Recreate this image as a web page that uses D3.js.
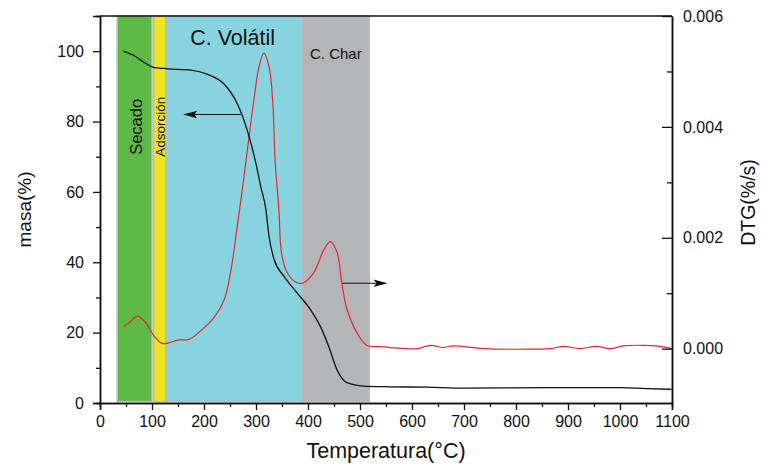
<!DOCTYPE html>
<html>
<head>
<meta charset="utf-8">
<script src="https://cdn.jsdelivr.net/npm/d3@7"></script>
<style>
  html, body { margin: 0; padding: 0; background: #fff; }
  svg text { font-family: "Liberation Sans", Arial, sans-serif; fill: #111; }
</style>
</head>
<body>
<div id="chart-tga"></div>
<script>
// ═══════════════════════════════════════════════
// TGA / DTG — masa(%) y DTG(%/s) vs Temperatura
// ═══════════════════════════════════════════════

// ── Data ───────────────────────────────────────
const MASS_T = [44.7, 66, 85, 101, 130, 175, 207, 239, 258, 274, 290, 301, 309, 319, 325,
  335, 354, 379, 405, 424, 440, 456, 475, 507, 539, 558, 629, 699, 859, 1000, 1051, 1099];
const MASS_V = [100, 98.7, 96.8, 95.5, 95.0, 94.6, 93.4, 90.6, 86.8, 81.6, 74, 67.3, 61.6, 55, 47.4,
  40.7, 36.0, 31.3, 26.5, 21.7, 16.0, 9.4, 5.8, 4.8, 4.65, 4.6, 4.5, 4.2, 4.36, 4.36, 4.1, 3.9];

const DTG_T = [44.7, 56, 72, 88, 104, 120, 133, 149, 171, 193, 219, 239, 251, 264, 277, 296,
  306, 315, 325, 332, 337, 344, 349, 360, 379, 392, 411, 431, 443, 456, 465, 475, 494, 513,
  539, 558, 610, 635, 661, 680, 738, 821, 866, 891, 923, 955, 981, 1006, 1045, 1077, 1099];
const DTG_V = [0.000396, 0.000468, 0.000587, 0.000468, 0.000227, 0.000095, 0.000108, 0.000155,
  0.000168, 0.000317, 0.000558, 0.000888, 0.00137, 0.00221, 0.00311, 0.00449, 0.00509, 0.00533,
  0.00509, 0.00449, 0.00335, 0.00251, 0.00173, 0.00137, 0.00119, 0.00119, 0.00137, 0.00179,
  0.00193, 0.00173, 0.00119, 0.00071, 0.00029, 0.00006, 0.000036, 0.00002, 0.0, 0.00006,
  0.00002, 0.00005, 0.0, -0.00001, 0.0, 0.00004, 0.0, 0.00004, 0.0, 0.00005, 0.00006, 0.00004, 0.0];

// stages (temperature ranges)
const STAGES      = ["Secado", "Adsorción", "C. Volátil", "C. Char"];
const STAGE_FROM  = [33, 103, 127, 389];
const STAGE_TO    = [100, 127, 389, 518];

const X_TICKS     = [0, 100, 200, 300, 400, 500, 600, 700, 800, 900, 1000, 1100];
const Y_TICKS     = [0, 20, 40, 60, 80, 100];
const Y2_TICKS    = [0, 0.002, 0.004, 0.006];

const STAGE_COLOR = ["#5fb946", "#ece61e", "#87d3df", "#b3b5b6"];

// ── Layout ─────────────────────────────────────
const W = 762, H = 465;
const margin = { top: 16, right: 90, bottom: 62, left: 100 };
const width  = W - margin.left - margin.right;
const height = H - margin.top - margin.bottom;

const svg = d3.select("#chart-tga").append("svg")
  .attr("width", W).attr("height", H);
const g = svg.append("g")
  .attr("transform", `translate(${margin.left},${margin.top})`);

// ── Scales ─────────────────────────────────────
const x  = d3.scaleLinear().domain([0, 1100]).range([0, width]);
const y  = d3.scaleLinear().domain([0, 110]).range([height, 0]);
const y2 = d3.scaleLinear().domain([-0.00098, 0.006]).range([height, 0]);

// ── Stage bands ────────────────────────────────
STAGES.forEach((s, i) => {
  g.append("rect")
    .attr("x", x(STAGE_FROM[i]))
    .attr("y", y(110))
    .attr("width", x(STAGE_TO[i]) - x(STAGE_FROM[i]))
    .attr("height", y(0.4) - y(110))
    .attr("fill", STAGE_COLOR[i])
    .attr("stroke", "#bcbcbc")
    .attr("stroke-width", 1.5);
});

// ── Stage labels ───────────────────────────────
const mid = i => x((STAGE_FROM[i] + STAGE_TO[i]) / 2);

g.append("text")
  .attr("transform", `translate(${mid(0) + 1},${y(78.5)}) rotate(-90)`)
  .attr("text-anchor", "middle").attr("dominant-baseline", "central")
  .attr("font-size", "16.5px").text(STAGES[0]);

g.append("text")
  .attr("transform", `translate(${mid(1) + 0.5},${y(78.5)}) rotate(-90)`)
  .attr("text-anchor", "middle").attr("dominant-baseline", "central")
  .attr("font-size", "13.5px").text(STAGES[1]);

g.append("text")
  .attr("x", x(255)).attr("y", y(101.7))
  .attr("text-anchor", "middle")
  .attr("font-size", "21.5px").text(STAGES[2]);

g.append("text")
  .attr("x", mid(3)).attr("y", y(97.7))
  .attr("text-anchor", "middle")
  .attr("font-size", "15px").text(STAGES[3]);

// ── Curves ─────────────────────────────────────
const massLine = d3.line()
  .x(d => x(d[0])).y(d => y(d[1]))
  .curve(d3.curveMonotoneX);
const dtgLine = d3.line()
  .x(d => x(d[0])).y(d => y2(d[1]))
  .curve(d3.curveCatmullRom.alpha(0.5));

g.append("path")
  .datum(DTG_T.map((t, i) => [t, DTG_V[i]]))
  .attr("fill", "none").attr("stroke", "#e8262b")
  .attr("stroke-width", 1.2).attr("d", dtgLine);

g.append("path")
  .datum(MASS_T.map((t, i) => [t, MASS_V[i]]))
  .attr("fill", "none").attr("stroke", "#111")
  .attr("stroke-width", 1.3).attr("d", massLine);

// ── Arrows (which axis each curve belongs to) ──
function arrow(x1, x2, yy) {
  const dir = Math.sign(x2 - x1);
  g.append("line")
    .attr("x1", x1).attr("x2", x2 - dir * 10)
    .attr("y1", yy).attr("y2", yy)
    .attr("stroke", "#111").attr("stroke-width", 1.2);
  g.append("path")
    .attr("d", `M${x2},${yy} L${x2 - dir * 14},${yy - 3.8} L${x2 - dir * 11},${yy} L${x2 - dir * 14},${yy + 3.8} Z`)
    .attr("fill", "#111");
}
arrow(x(271), x(160), y(82));
arrow(x(466), x(553), y2(0.00118));

// ── Frame ──────────────────────────────────────
g.append("line")
  .attr("x1", 0).attr("x2", width).attr("y1", 0).attr("y2", 0)
  .attr("stroke", "#111").attr("stroke-width", 1.5);

function styleAxis(sel) {
  sel.select(".domain").attr("stroke", "#111").attr("stroke-width", 1.5);
  sel.selectAll(".tick line").attr("stroke", "#111").attr("stroke-width", 1.3);
  sel.selectAll("text")
    .attr("font-family", "'Liberation Sans', Arial, sans-serif")
    .attr("font-size", "16px").attr("fill", "#111");
}

// minor ticks
const xMinor  = d3.range(50, 1100, 100);
const yMinor  = d3.range(10, 100, 20);
const y2Minor = [0.001, 0.003, 0.005];

g.append("g").attr("transform", `translate(0,${height})`)
  .call(d3.axisBottom(x).tickValues(xMinor).tickSize(4).tickFormat(""))
  .call(styleAxis);
g.append("g")
  .call(d3.axisLeft(y).tickValues(yMinor).tickSize(4).tickFormat(""))
  .call(styleAxis);
g.append("g").attr("transform", `translate(${width},0)`)
  .call(d3.axisRight(y2).tickValues(y2Minor).tickSizeInner(-5).tickSizeOuter(0).tickFormat(""))
  .call(styleAxis);

// major ticks
g.append("g").attr("transform", `translate(0,${height})`)
  .call(d3.axisBottom(x).tickValues(X_TICKS).tickSize(7).tickPadding(6).tickFormat(d3.format("d")))
  .call(styleAxis);
g.append("g")
  .call(d3.axisLeft(y).tickValues(Y_TICKS).tickSize(7).tickPadding(9).tickFormat(d3.format("d")))
  .call(styleAxis);
g.append("g").attr("transform", `translate(${width},0)`)
  .call(d3.axisRight(y2).tickValues(Y2_TICKS).tickSizeInner(-10).tickSizeOuter(0)
    .tickPadding(11).tickFormat(d3.format(".3f")))
  .call(styleAxis);

// ── Axis titles ────────────────────────────────
g.append("text")
  .attr("transform", `translate(${-76},${height / 2}) rotate(-90)`)
  .attr("text-anchor", "middle").attr("dominant-baseline", "central")
  .attr("font-size", "19px").text("masa(%)");

g.append("text")
  .attr("transform", `translate(${width + 76},${height / 2 - 7}) rotate(-90)`)
  .attr("text-anchor", "middle").attr("dominant-baseline", "central")
  .attr("font-size", "19.5px").text("DTG(%/s)");

g.append("text")
  .attr("x", width / 2).attr("y", height + 55)
  .attr("text-anchor", "middle")
  .attr("font-size", "21.5px").text("Temperatura(°C)");
</script>
</body>
</html>
